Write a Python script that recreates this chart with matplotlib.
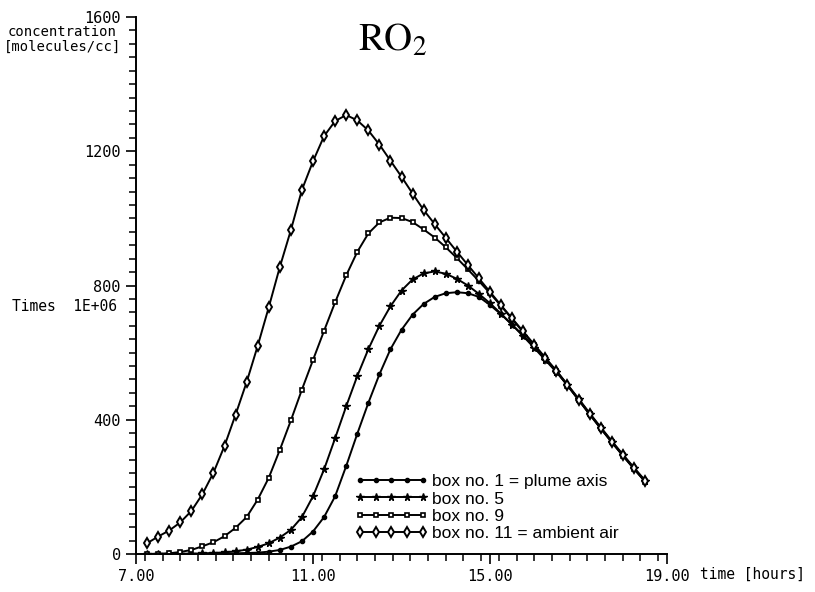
import numpy as np
import matplotlib
matplotlib.use("Agg")
import matplotlib.pyplot as plt
from matplotlib.ticker import MultipleLocator, FixedFormatter, FixedLocator

# time axis: every 15 minutes from 7.25 h to 18.5 h
hours = np.arange(7.25, 18.51, 0.25)

# RO2 concentration, units of 1E+06 molecules/cc
box11 = [32, 52, 70, 94, 128, 178, 242, 322, 415, 512, 620, 735, 855, 965, 1085, 1170,
         1245, 1290, 1308, 1292, 1262, 1220, 1172, 1124, 1074, 1025, 983, 942, 901, 861,
         821, 781, 741, 702, 663, 624, 585, 546, 503, 460, 417, 375, 334, 294, 255, 217]
box9 = [0, 1, 2, 6, 12, 23, 35, 53, 78, 110, 162, 227, 310, 398, 490, 578,
        665, 750, 830, 900, 955, 988, 1002, 1001, 989, 967, 943, 914, 882, 848,
        813, 777, 739, 700, 661, 622, 583, 544, 502, 459, 416, 374, 333, 293, 254, 216]
box5 = [0, 0, 0, 1, 1, 2, 3, 5, 8, 13, 21, 32, 49, 72, 110, 172,
        252, 345, 440, 530, 610, 680, 738, 785, 818, 836, 842, 835, 820, 800,
        775, 747, 716, 683, 649, 614, 578, 542, 503, 461, 418, 376, 335, 295, 256, 218]
box1 = [0, 0, 0, 0, 0, 0, 1, 1, 2, 3, 4, 7, 12, 22, 38, 67,
        110, 172, 262, 358, 450, 535, 610, 668, 713, 745, 766, 777, 780, 777,
        766, 742, 714, 683, 651, 617, 581, 546, 505, 463, 420, 378, 337, 297, 258, 220]

labels = ["box no. 1 = plume axis", "box no. 5", "box no. 9", "box no. 11 = ambient air"]
yticks = [0, 400, 800, 1200, 1600]
ytick_labels = ["0", "400", "800", "1200", "1600"]
xticks = [7, 11, 15, 19]
xtick_labels = ["7.00", "11.00", "15.00", "19.00"]

mono = "DejaVu Sans Mono"

fig = plt.figure(figsize=(8.15, 5.92), dpi=100)
ax = fig.add_axes([136 / 815, 1 - 554 / 592, 531 / 815, 537 / 592])

lw = 1.4
ax.plot(hours, box1, color="black", lw=lw, marker="o", ms=3, label=labels[0])
ax.plot(hours, box5, color="black", lw=lw, marker="*", ms=5.5, label=labels[1])
ax.plot(hours, box9, color="black", lw=lw, marker="s", ms=3.5, mfc="white", mew=1.2,
        label=labels[2])
ax.plot(hours, box11, color="black", lw=lw, marker="d", ms=5, mfc="white", mew=1.4,
        label=labels[3])

ax.set_xlim(7, 19)
ax.set_ylim(0, 1600)
ax.xaxis.set_major_locator(FixedLocator(xticks))
ax.xaxis.set_major_formatter(FixedFormatter(xtick_labels))
ax.xaxis.set_minor_locator(MultipleLocator(0.4))
ax.yaxis.set_major_locator(FixedLocator(yticks))
ax.yaxis.set_major_formatter(FixedFormatter(ytick_labels))
ax.yaxis.set_minor_locator(MultipleLocator(40))

for s in ["top", "right"]:
    ax.spines[s].set_visible(False)
for s in ["left", "bottom"]:
    ax.spines[s].set_linewidth(1.4)

ax.tick_params(which="major", direction="out", length=7, width=1.2, pad=4,
               labelsize=11)
ax.tick_params(which="minor", direction="out", length=5, width=1.1)
for t in ax.get_xticklabels() + ax.get_yticklabels():
    t.set_family(mono)

# axis annotations
fig.text(8 / 815, 1 - 32 / 592, "concentration", family=mono, fontsize=10,
         va="center", ha="left")
fig.text(4 / 815, 1 - 47 / 592, "[molecules/cc]", family=mono, fontsize=10,
         va="center", ha="left")
fig.text(12 / 815, 1 - 307 / 592, "Times  1E+06", family=mono, fontsize=10.5,
         va="center", ha="left")
fig.text(700 / 815, 1 - 574 / 592, "time [hours]", family=mono, fontsize=10.5,
         va="center", ha="left")

fig.text(393 / 815, 1 - 40 / 592, r"$\mathrm{RO_2}$", fontsize=28, ha="center",
         va="center", math_fontfamily="stix")

ax.legend(loc="lower left", bbox_to_anchor=(355 / 815, 1 - 541 / 592),
          bbox_transform=fig.transFigure, frameon=False, numpoints=5,
          handlelength=4.2, handletextpad=0.25, labelspacing=0.12, borderpad=0,
          borderaxespad=0, prop={"family": "Liberation Sans", "size": 12.5})

fig.savefig("out.png", dpi=100)
